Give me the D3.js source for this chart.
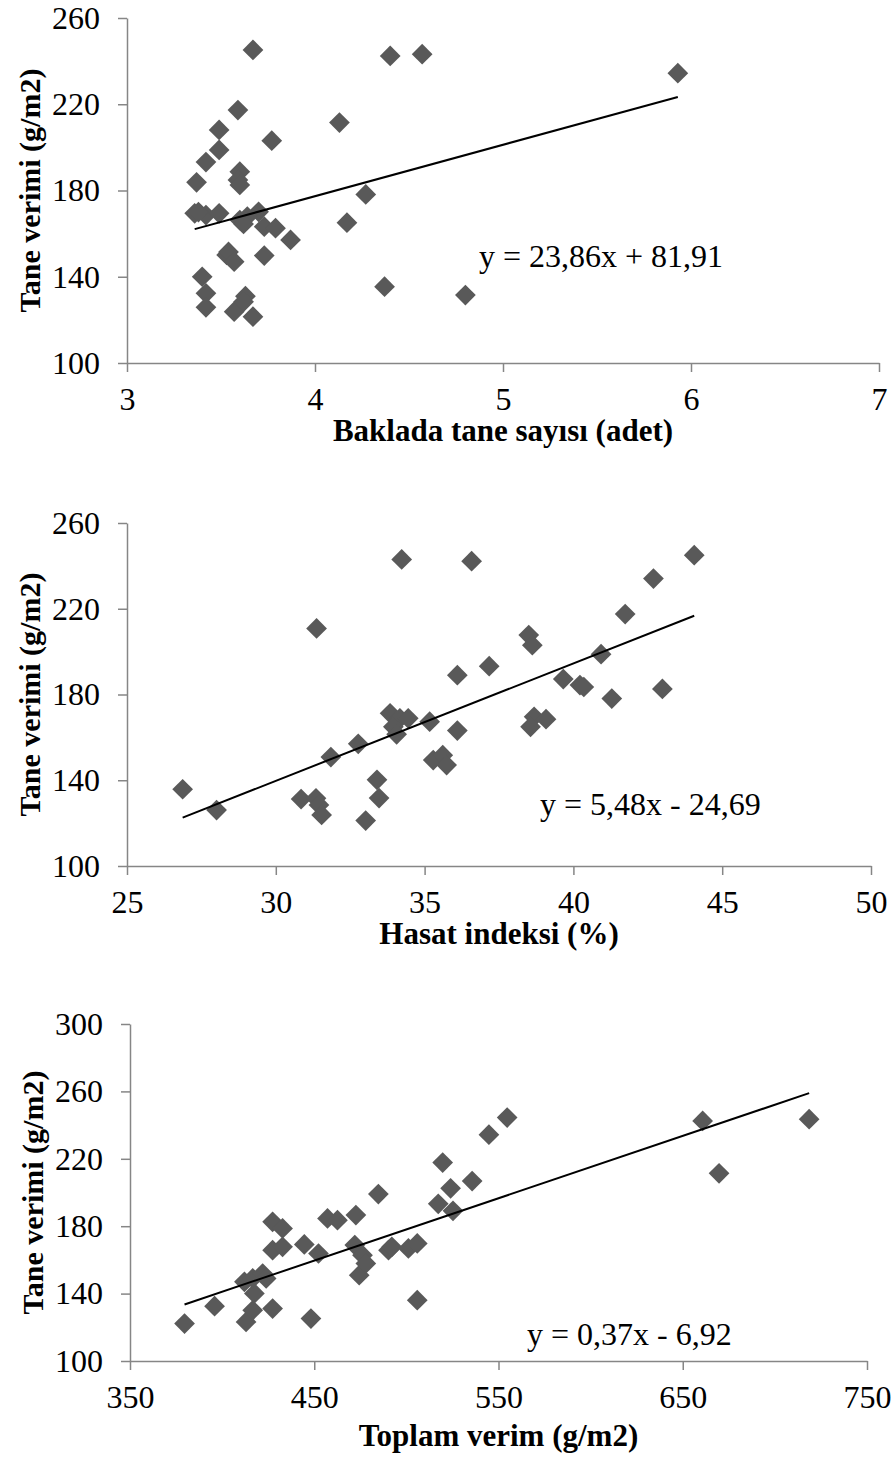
<!DOCTYPE html>
<html>
<head>
<meta charset="utf-8">
<script src="https://cdn.jsdelivr.net/npm/d3@7"></script>
<style>
  body { margin: 0; background: #fff; }
  svg text { font-family: "Liberation Serif", "Times New Roman", serif; fill: #000; }
  .axis path, .axis line { stroke: #868686; stroke-width: 1.5; }
</style>
</head>
<body>
<div id="chart"></div>
<script>
// ---- data ----
// panel 1 : Baklada tane sayisi vs tane verimi
const bakladaX = [3.67, 4.40, 4.57, 5.93, 3.59, 4.13, 3.49, 3.77, 3.49, 3.42,
                  3.37, 3.60, 3.59, 3.60, 4.27, 3.36, 3.42, 3.49, 3.60, 3.70,
                  3.73, 3.79, 3.87, 4.17, 3.53, 3.54, 3.57, 3.73, 3.40, 3.42,
                  3.42, 3.57, 3.63, 3.62, 3.67, 4.37, 4.80, 3.64, 3.62, 3.38];
const bakladaY = [245.2, 242.4, 243.2, 234.4, 217.3, 211.5, 208.1, 203.1, 198.8, 193.2,
                  183.8, 188.7, 184.9, 182.6, 178.2, 169.4, 168.6, 169.4, 166.3, 170.1,
                  163.2, 162.5, 157.1, 165.1, 150.1, 151.5, 147.0, 149.8, 140.0, 132.3,
                  125.8, 123.8, 131.0, 128.4, 121.5, 135.4, 131.5, 167.9, 164.5, 170.0];

// panel 2 : Hasat indeksi vs tane verimi
const hasatX = [26.87, 28.01, 30.85, 31.35, 31.45, 31.54, 31.37, 31.85, 32.77, 33.02,
                33.40, 33.47, 34.23, 33.84, 34.17, 34.45, 33.95, 34.06, 35.17, 35.29,
                35.61, 35.74, 36.10, 36.10, 36.58, 37.17, 38.50, 38.62, 38.68, 39.08,
                38.56, 39.66, 40.22, 40.35, 40.93, 41.29, 41.74, 42.69, 42.99, 44.06];
const hasatY = [135.8, 126.1, 131.2, 131.6, 128.5, 123.8, 210.8, 150.8, 157.0, 121.2,
                140.2, 131.7, 243.0, 171.2, 168.9, 168.9, 164.9, 161.4, 167.3, 149.4,
                151.7, 147.1, 189.0, 163.2, 242.2, 193.2, 207.7, 203.0, 169.6, 168.5,
                164.9, 187.2, 184.4, 183.5, 198.8, 178.1, 217.5, 234.1, 182.6, 245.0];

// panel 3 : Toplam verim vs tane verimi
const toplamX = [379.6, 395.9, 413.0, 416.6, 427.4, 448.2, 417.5, 412.1, 416.6, 422.0,
                 423.9, 427.4, 432.8, 427.4, 432.8, 444.6, 452.3, 457.2, 462.6, 472.6,
                 472.0, 474.4, 476.2, 478.0, 484.8, 490.3, 492.1, 501.1, 505.9, 505.9,
                 517.3, 519.7, 524.0, 525.3, 535.7, 544.8, 554.7, 660.8, 669.7, 718.6];
const toplamY = [122.2, 132.5, 123.2, 130.1, 131.1, 125.2, 140.1, 147.0, 149.0, 151.9,
                 149.0, 182.6, 178.7, 165.8, 167.8, 169.2, 163.8, 184.6, 183.6, 186.6,
                 168.8, 150.9, 162.8, 157.9, 199.1, 165.8, 167.8, 166.8, 169.8, 136.1,
                 193.3, 217.8, 202.5, 189.1, 206.8, 234.3, 244.5, 242.5, 211.4, 243.5];

// trend lines: [slope, intercept] as printed on the chart
const bakladaFit = [23.86, 81.91];
const hasatFit = [5.48, -24.69];
const toplamFit = [0.37, -6.92];

const bakladaXTicks = [3, 4, 5, 6, 7];
const hasatXTicks = [25, 30, 35, 40, 45, 50];
const toplamXTicks = [350, 450, 550, 650, 750];
const yTicks260 = [100, 140, 180, 220, 260];
const yTicks300 = [100, 140, 180, 220, 260, 300];

const yTitle = "Tane verimi (g/m2)";

const panels = [
    {x: bakladaX, y: bakladaY, fit: bakladaFit, xTicks: bakladaXTicks, yTicks: yTicks260,
     xTitle: "Baklada tane sayısı (adet)", eq: "y = 23,86x + 81,91",
     left: 127, right: 879, top: 18, bottom: 363, eqX: 479, eqY: 267, titleY: 441, yTitleX: 40},
    {x: hasatX, y: hasatY, fit: hasatFit, xTicks: hasatXTicks, yTicks: yTicks260,
     xTitle: "Hasat indeksi (%)", eq: "y = 5,48x - 24,69",
     left: 127, right: 871, top: 523, bottom: 866, eqX: 540, eqY: 815, titleY: 944, yTitleX: 40},
    {x: toplamX, y: toplamY, fit: toplamFit, xTicks: toplamXTicks, yTicks: yTicks300,
     xTitle: "Toplam verim (g/m2)", eq: "y = 0,37x - 6,92",
     left: 130, right: 867, top: 1024, bottom: 1361, eqX: 527, eqY: 1345, titleY: 1446, yTitleX: 43}
];

const svg = d3.select("#chart").append("svg")
    .attr("width", 895)
    .attr("height", 1459);

panels.forEach(p => {
    let g = svg.append("g");

    let x = d3.scaleLinear()
        .domain(d3.extent(p.xTicks))
        .range([p.left, p.right]);
    let y = d3.scaleLinear()
        .domain(d3.extent(p.yTicks))
        .range([p.bottom, p.top]);

    // axes
    let yAxis = d3.axisLeft(y).tickValues(p.yTicks).tickFormat(d3.format("d"))
        .tickSize(9).tickSizeOuter(0).tickPadding(18);
    let xAxis = d3.axisBottom(x).tickValues(p.xTicks).tickFormat(d3.format("d"))
        .tickSize(9).tickSizeOuter(0).tickPadding(15);

    g.append("g")
        .attr("class", "axis")
        .attr("transform", `translate(${p.left},0)`)
        .call(yAxis)
        .selectAll("text")
        .style("font-size", "32px");

    g.append("g")
        .attr("class", "axis")
        .attr("transform", `translate(0,${p.bottom})`)
        .call(xAxis)
        .selectAll("text")
        .style("font-size", "32px");

    g.selectAll(".axis").attr("font-family", null).attr("font-size", null);

    // points (diamonds)
    let pts = p.x.map((v, i) => ({x: v, y: p.y[i]}));
    g.selectAll("path.pt")
        .data(pts)
        .enter()
        .append("path")
        .attr("class", "pt")
        .attr("d", d3.symbol(d3.symbolSquare, 215))
        .attr("transform", d => `translate(${x(d.x)},${y(d.y)}) rotate(45)`)
        .attr("fill", "#595959");

    // trend line from min x to max x
    let xr = d3.extent(p.x);
    let line = d3.line()
        .x(d => x(d))
        .y(d => y(p.fit[0] * d + p.fit[1]));
    g.append("path")
        .datum(xr)
        .attr("d", line)
        .attr("fill", "none")
        .attr("stroke", "#000")
        .attr("stroke-width", 2);

    // equation
    g.append("text")
        .attr("x", p.eqX)
        .attr("y", p.eqY)
        .style("font-size", "32px")
        .text(p.eq);

    // axis titles
    g.append("text")
        .attr("x", (p.left + p.right) / 2)
        .attr("y", p.titleY)
        .attr("text-anchor", "middle")
        .style("font-size", "31px")
        .style("font-weight", "bold")
        .text(p.xTitle);

    g.append("text")
        .attr("transform", `translate(${p.yTitleX},${(p.top + p.bottom) / 2}) rotate(-90)`)
        .attr("text-anchor", "middle")
        .style("font-size", "30px")
        .style("font-weight", "bold")
        .text(yTitle);
});
</script>
</body>
</html>
